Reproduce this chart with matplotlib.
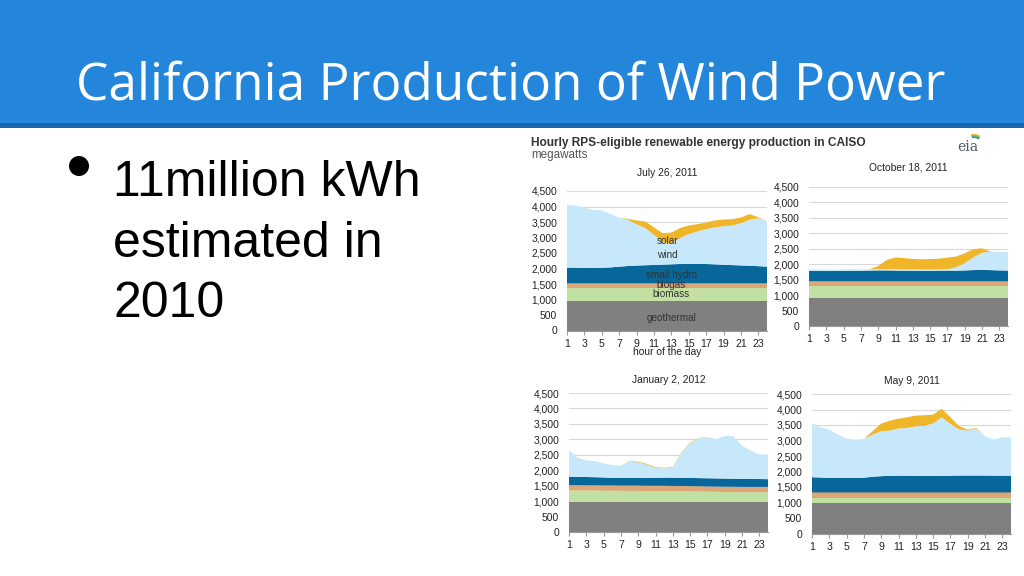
import matplotlib
matplotlib.use("Agg")
import matplotlib.pyplot as plt
from matplotlib.patches import Rectangle, Ellipse, Arc
from matplotlib.ticker import FuncFormatter

W, H = 1024, 576

hours = list(range(1, 25))
layer_names = ["geothermal", "biomass", "biogas", "small hydro", "wind", "solar"]
layer_colors = ["#808080", "#c3e0a3", "#dba678", "#07679a", "#c6e8fa", "#f0b62a"]

# July 26, 2011
jul_geo = [960] * 24
jul_biomass = [405] * 24
jul_biogas = [160] * 24
jul_hydro = [505, 500, 495, 495, 500, 510, 535, 555, 570, 580, 590, 600,
             610, 620, 625, 625, 620, 610, 595, 585, 575, 565, 550, 535]
jul_wind = [2025, 2005, 1950, 1870, 1855, 1720, 1585, 1490, 1335, 1195, 970, 725,
            680, 835, 960, 1045, 1125, 1190, 1245, 1275, 1360, 1480, 1550, 1455]
jul_solar = [0, 0, 0, 0, 0, 0, 0, 30, 120, 215, 240, 290,
             345, 325, 280, 235, 215, 225, 215, 205, 185, 185, 30, 0]

# October 18, 2011
oct_geo = [920] * 24
oct_biomass = [370] * 24
oct_biogas = [160] * 24
oct_hydro = [340, 330, 330, 330, 335, 340, 340, 345, 350, 350, 345, 340,
             340, 335, 335, 340, 345, 340, 350, 360, 365, 360, 350, 345]
oct_wind = [45, 45, 45, 45, 45, 45, 45, 45, 40, 40, 40, 40,
            40, 40, 40, 40, 45, 110, 230, 415, 560, 600, 600, 605]
oct_solar = [0, 0, 0, 0, 0, 0, 0, 0, 100, 300, 385, 370,
             340, 335, 345, 350, 375, 350, 325, 260, 140, 0, 0, 0]

# January 2, 2012
jan_geo = [980] * 24
jan_biomass = [365, 365, 360, 360, 355, 355, 350, 350, 350, 345, 345, 345,
               340, 340, 335, 330, 325, 320, 315, 315, 310, 310, 310, 310]
jan_biogas = [170] * 24
jan_hydro = [275, 270, 270, 265, 260, 250, 250, 250, 250, 255, 260, 265,
             270, 265, 265, 265, 265, 265, 265, 260, 260, 260, 255, 250]
jan_wind = [850, 615, 540, 515, 455, 415, 400, 550, 500, 430, 325, 300,
            320, 815, 1130, 1295, 1330, 1265, 1380, 1375, 1070, 920, 795, 800]
jan_solar = [0, 0, 0, 0, 0, 0, 0, 10, 25, 25, 20, 20,
             20, 15, 15, 10, 5, 0, 0, 0, 0, 0, 0, 0]

# May 9, 2011
may_geo = [1000] * 24
may_biomass = [150] * 24
may_biogas = [175] * 24
may_hydro = [490, 480, 470, 465, 470, 465, 475, 505, 525, 535, 540, 540,
             535, 535, 535, 535, 540, 545, 545, 545, 545, 540, 540, 540]
may_wind = [1750, 1620, 1555, 1400, 1265, 1240, 1250, 1360, 1450, 1460, 1520, 1540,
            1600, 1610, 1695, 1885, 1670, 1485, 1450, 1515, 1270, 1165, 1240, 1220]
may_solar = [0, 0, 0, 0, 0, 0, 0, 110, 245, 320, 320, 345,
             345, 345, 280, 280, 215, 110, 30, 20, 0, 0, 0, 0]

panels = [
    ("July 26, 2011", [jul_geo, jul_biomass, jul_biogas, jul_hydro, jul_wind, jul_solar],
     (567, 191, 767, 330.5), 11),
    ("October 18, 2011", [oct_geo, oct_biomass, oct_biogas, oct_hydro, oct_wind, oct_solar],
     (809, 187, 1008, 326), 12),
    ("January 2, 2012", [jan_geo, jan_biomass, jan_biogas, jan_hydro, jan_wind, jan_solar],
     (569, 393, 768, 532), 7),
    ("May 9, 2011", [may_geo, may_biomass, may_biogas, may_hydro, may_wind, may_solar],
     (812, 394, 1011, 533.5), 7),
]

yticks = list(range(0, 4501, 500))
xticks = list(range(1, 24, 2))

plt.rcParams["font.family"] = ["Liberation Sans", "DejaVu Sans"]

fig = plt.figure(figsize=(W / 100, H / 100), dpi=100)
fig.patch.set_facecolor("white")


def fx(x):
    return x / W


def fy(y):
    return 1 - y / H


# slide header
fig.patches.append(Rectangle((0, fy(123)), 1, 123 / H, transform=fig.transFigure,
                             facecolor="#2386da", edgecolor="none"))
fig.patches.append(Rectangle((0, fy(128)), 1, 5 / H, transform=fig.transFigure,
                             facecolor="#1666b0", edgecolor="none"))
fig.text(fx(511), fy(100), "California Production of Wind Power", color="white",
         fontsize=37, family="Open Sans", ha="center", va="baseline")

# bullet
fig.patches.append(Ellipse((fx(79), fy(166)), 20 / W, 20 / H, transform=fig.transFigure,
                           facecolor="black", edgecolor="none"))
for txt, yb in [("11million kWh", 196), ("estimated in", 257), ("2010", 317)]:
    fig.text(fx(113), fy(yb), txt, fontsize=36, color="black", va="baseline", ha="left")

# chart header
fig.text(fx(531), fy(146), "Hourly RPS-eligible renewable energy production in CAISO",
         fontsize=8.6, fontweight="bold", color="#333333", va="baseline")
fig.text(fx(531), fy(158), "megawatts", fontsize=8.4, color="#555555", va="baseline")
fig.text(fx(968), fy(151), "eia", fontsize=10, family="DejaVu Serif", color="#4a5a6a",
         ha="center", va="baseline")
logo = fig.add_axes([fx(960), fy(142), 20 / W, 8 / H])
logo.set_xlim(-1, 1)
logo.set_ylim(0, 1)
logo.axis("off")
for r, c in [(0.9, "#f0b62a"), (0.75, "#7fbf3f"), (0.6, "#3a8fd0")]:
    logo.add_patch(Arc((0.4, 0), 2 * r, 2 * r, theta1=40, theta2=110, color=c, lw=1.2))

for title, layers, (x0, y0, x1, y1), tpad in panels:
    ax = fig.add_axes([fx(x0), fy(y1), (x1 - x0) / W, (y1 - y0) / H])
    ax.stackplot(hours, *layers, colors=layer_colors, linewidth=0)
    ax.set_xlim(1, 24)
    ax.set_ylim(0, 4500)
    ax.set_yticks(yticks)
    ax.set_xticks(xticks)
    ax.yaxis.set_major_formatter(FuncFormatter(lambda v, p: f"{int(v):,}"))
    ax.grid(axis="y", color="#d9d9d9", lw=0.8)
    ax.set_axisbelow(True)
    for s in ["top", "right", "left"]:
        ax.spines[s].set_visible(False)
    ax.spines["bottom"].set_color("#9a9a9a")
    ax.spines["bottom"].set_linewidth(0.8)
    ax.tick_params(axis="y", length=0, pad=7, labelsize=7.4, labelcolor="#222222")
    ax.tick_params(axis="x", length=3, color="#9a9a9a", pad=3, labelsize=7.6,
                   labelcolor="#222222")
    ax.set_title(title, fontsize=7.4, color="#222222", pad=tpad)

    if title.startswith("July"):
        ax.set_xlabel("hour of the day", fontsize=7.4, color="#222222", labelpad=-1)
        lab = [("solar", 12.5, 2900), ("wind", 12.5, 2450), ("small hydro", 13, 1800),
               ("biogas", 13, 1470), ("biomass", 13, 1170), ("geothermal", 13, 400)]
        for t, xx, yy in lab:
            ax.text(xx, yy, t, fontsize=7.2, color="#333333", ha="center", va="center")

fig.savefig("out.png", dpi=100)
